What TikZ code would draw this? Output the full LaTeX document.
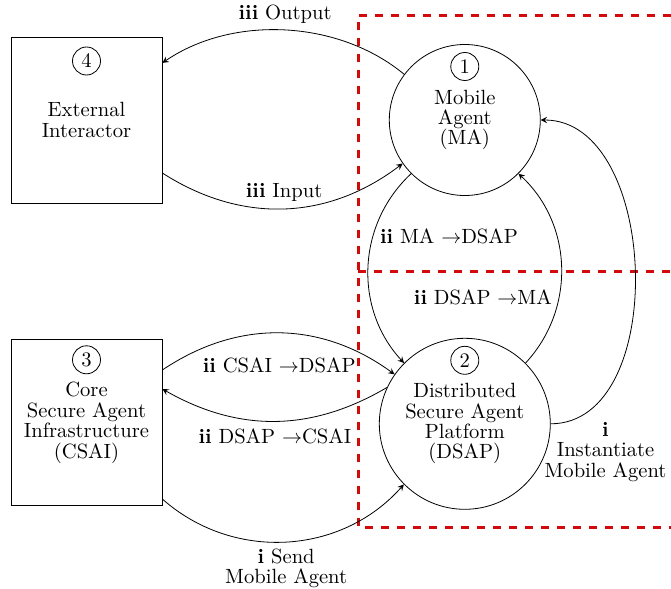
\documentclass[tikz,border=0pt]{standalone}
\usepackage{amsmath}
\usetikzlibrary{positioning}
\definecolor{zonered}{RGB}{210,10,10}

\begin{document}
\begin{tikzpicture}[x=0.5pt, y=-0.5pt, >=stealth,
    every node/.style={font=\fontsize{10.3}{10.2}\selectfont, align=center},
    agent/.style={draw, circle, inner sep=0pt},
    actor/.style={draw, rectangle, minimum width=75.5pt, minimum height=83pt, inner sep=0pt},
    num/.style={draw, circle, minimum size=14pt, inner sep=0pt},
    zone/.style={zonered, line width=1.5pt, dash pattern=on 4.2pt off 3.8pt}]
  \useasboundingbox (0,0) rectangle (671,589);
  % trust zones
  \draw[zone] (671,15) -- (358,15) -- (358,527) -- (671,527);
  \draw[zone] (358,271) -- (671,271);
  % parties
  \node[actor] (ext) at (86.5,120) {External\\Interactor};
  \node[agent, minimum size=75.5pt, right=113.25pt of ext] (ma) {Mobile\\Agent\\(MA)};
  \node[agent, minimum size=85.5pt, below=71pt of ma] (dsap) {Distributed\\Secure Agent\\Platform\\(DSAP)};
  \node[actor, below=68pt of ext] (csai) {Core\\Secure Agent\\Infrastructure\\(CSAI)};
  \node[num, below=4pt of ma.north] (n1) {1};
  \node[num, below=4pt of dsap.north] (n2) {2};
  \node[num, below=3pt of csai.north] (n3) {3};
  \node[num, below=5pt of ext.north] (n4) {4};
  % messages
  \draw[->] (ma) to[bend right=37, looseness=0.9] node[above] {\textbf{iii} Output} (ext);
  \draw[->] (ext) to[bend right=35] node[above] {\textbf{iii} Input} (ma);
  \draw[->] (ma) to[bend right=45] node[pos=0.35, right] {\textbf{ii} MA $\rightarrow$DSAP} (dsap);
  \draw[->] (dsap) to[bend right=45] node[pos=0.35, left] {\textbf{ii} DSAP $\rightarrow$MA} (ma);
  \draw[->] (csai) to[bend left=35] node[below=9pt] {\textbf{ii} CSAI $\rightarrow$DSAP} (dsap);
  \draw[->] (dsap.155) to[bend left=30] node[below] {\textbf{ii} DSAP $\rightarrow$CSAI} (csai.24);
  \draw[->] (csai) to[bend right=45] node[below] {\textbf{i} Send\\Mobile Agent} (dsap);
  \draw[->] (dsap.east) to[out=0, in=0] node[pos=0.1, below, xshift=11.5pt] {\textbf{i}\\Instantiate\\Mobile Agent} (ma.east);
\end{tikzpicture}
\end{document}
